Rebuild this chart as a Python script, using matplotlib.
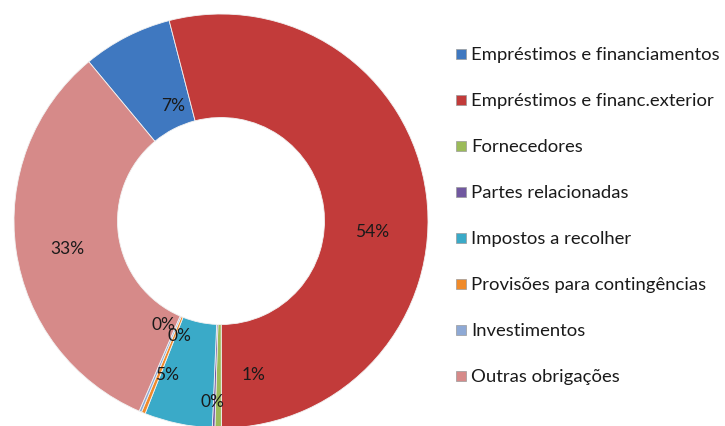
import matplotlib
matplotlib.use("Agg")
import matplotlib.pyplot as plt
from matplotlib.patches import Rectangle

# values (percent of total)
categories = ["Empréstimos e financiamentos", "Empréstimos e financ.exterior",
              "Fornecedores", "Partes relacionadas", "Impostos a recolher",
              "Provisões para contingências", "Investimentos", "Outras obrigações"]
values = [7.0, 54.0, 0.5, 0.2, 5.3, 0.3, 0.2, 32.5]
pct_labels = ["7%", "54%", "1%", "0%", "5%", "0%", "0%", "33%"]

colors = ["#3F78C0", "#C23B3A", "#9BBB59", "#7158A0",
          "#3AAAC8", "#F08A2A", "#8EA9D5", "#D68A89"]

# where Excel put each data label (data units, radius 1 = outer edge)
label_pos = [(-0.23, 0.56), (0.73, -0.05), (0.155, -0.74), (-0.04, -0.87),
             (-0.26, -0.74), (-0.20, -0.55), (-0.28, -0.50), (-0.74, -0.13)]

W, H = 725, 427
fig = plt.figure(figsize=(W / 100, H / 100), dpi=100)
fig.patch.set_facecolor("white")

cx, cy, r = 221, 222, 207  # donut centre and radius in pixels
ax = fig.add_axes([(cx - r) / W, (H - cy - r) / H, 2 * r / W, 2 * r / H])

wedges, _ = ax.pie(values, colors=colors, radius=1.0, startangle=129.7,
                   counterclock=False,
                   wedgeprops=dict(width=0.5, edgecolor="#f2f2f2", linewidth=0.6))
# pie() sets its own limits, so override afterwards
ax.set_xlim(-1, 1)
ax.set_ylim(-1, 1)
ax.set_aspect("equal")
ax.axis("off")

font = ["Lato", "DejaVu Sans"]
for (x, y), txt in zip(label_pos, pct_labels):
    ax.text(x, y, txt, ha="center", va="center", fontsize=12.5,
            color="#1a1a1a", family=font)

# legend drawn by hand: square marker + label
for i, (name, col) in enumerate(zip(categories, colors)):
    yc = 1 - (55 + i * 46.0) / H
    sq = 10
    fig.patches.append(Rectangle((456 / W, yc - sq / 2 / H), sq / W, sq / H,
                                 transform=fig.transFigure, facecolor=col,
                                 edgecolor="#9a9a9a", linewidth=0.5))
    fig.text(471 / W, yc, name, ha="left", va="center", fontsize=13.3,
             color="#1a1a1a", family=font)

fig.savefig("out.png", dpi=100)
